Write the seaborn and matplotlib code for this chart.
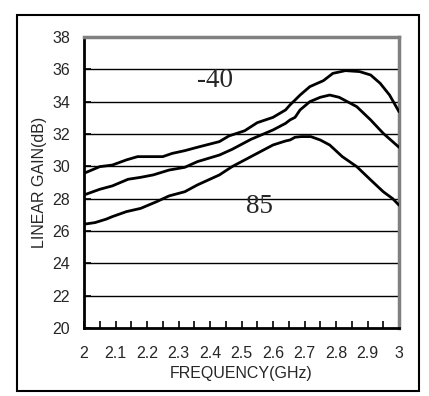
import matplotlib
matplotlib.use("Agg")
import matplotlib.pyplot as plt
import seaborn as sns
import pandas as pd
from matplotlib.patches import Rectangle

# ---- data ----
freq_m40 = [2.00, 2.05, 2.09, 2.135, 2.17, 2.25, 2.28, 2.32, 2.36, 2.43, 2.46, 2.51,
            2.55, 2.60, 2.64, 2.654, 2.67, 2.686, 2.717, 2.76, 2.79, 2.83, 2.875,
            2.91, 2.94, 2.97, 3.00]
gain_m40 = [29.57, 29.98, 30.08, 30.40, 30.60, 30.60, 30.80, 30.97, 31.18, 31.53, 31.88,
            32.20, 32.70, 33.03, 33.49, 33.80, 34.10, 34.41, 34.93, 35.30, 35.75, 35.92,
            35.86, 35.65, 35.14, 34.41, 33.38]

freq_25 = [2.00, 2.05, 2.09, 2.14, 2.18, 2.22, 2.27, 2.32, 2.36, 2.43, 2.47, 2.53,
           2.60, 2.64, 2.654, 2.67, 2.686, 2.717, 2.75, 2.78, 2.81, 2.866, 2.91,
           2.95, 3.00]
gain_25 = [28.23, 28.58, 28.79, 29.20, 29.32, 29.47, 29.77, 29.94, 30.29, 30.70, 31.05,
           31.67, 32.25, 32.66, 32.87, 33.03, 33.49, 34.00, 34.27, 34.41, 34.27, 33.69,
           32.87, 32.04, 31.18]

freq_85 = [2.00, 2.035, 2.07, 2.09, 2.135, 2.18, 2.23, 2.27, 2.32, 2.36, 2.43, 2.47,
           2.53, 2.60, 2.64, 2.654, 2.67, 2.69, 2.72, 2.75, 2.78, 2.82, 2.866, 2.91,
           2.95, 2.98, 3.00]
gain_85 = [26.42, 26.52, 26.73, 26.89, 27.20, 27.40, 27.81, 28.17, 28.43, 28.85, 29.47,
           29.98, 30.60, 31.32, 31.57, 31.63, 31.80, 31.84, 31.84, 31.63, 31.32, 30.60,
           29.98, 29.16, 28.43, 28.00, 27.60]

x_ticks = [2.0, 2.1, 2.2, 2.3, 2.4, 2.5, 2.6, 2.7, 2.8, 2.9, 3.0]
x_tick_labels = ["2", "2.1", "2.2", "2.3", "2.4", "2.5", "2.6", "2.7", "2.8", "2.9", "3"]
y_ticks = [20, 22, 24, 26, 28, 30, 32, 34, 36, 38]
annotations = [("-40", 2.417, 35.3), ("85", 2.556, 27.5)]

df = pd.concat([
    pd.DataFrame({"freq": freq_m40, "gain": gain_m40, "temp": "-40"}),
    pd.DataFrame({"freq": freq_25, "gain": gain_25, "temp": "25"}),
    pd.DataFrame({"freq": freq_85, "gain": gain_85, "temp": "85"}),
])

sns.set_style("white")
plt.rcParams["font.family"] = ["Liberation Sans", "DejaVu Sans"]

fig = plt.figure(figsize=(4.29, 3.96), dpi=100)
ax = fig.add_axes([84 / 429, 1 - 328 / 396, 315 / 429, 291 / 396])

# grid lines
for yv in y_ticks[1:-1]:
    ax.axhline(yv, color="black", lw=1.0, zorder=1)

sns.lineplot(data=df, x="freq", y="gain", units="temp", estimator=None,
             color="black", lw=2.0, ax=ax, legend=False, zorder=3, sort=False)

ax.set_xlim(2.0, 3.0)
ax.set_ylim(20, 38)
ax.set_xticks(x_ticks)
ax.set_xticklabels(x_tick_labels)
ax.set_xticks([2.05 + 0.1 * i for i in range(10)], minor=True)
ax.set_yticks(y_ticks)
ax.tick_params(axis="x", which="both", direction="in", length=5, width=1.2,
               color="black", labelsize=11.5, pad=13, bottom=True)
ax.tick_params(axis="y", which="both", direction="in", length=5, width=1.2,
               color="black", labelsize=11.5, pad=10, left=True)

for side in ["left", "bottom"]:
    ax.spines[side].set_color("black")
    ax.spines[side].set_linewidth(2.0)
for side in ["top", "right"]:
    ax.spines[side].set_color("#808080")
    ax.spines[side].set_linewidth(2.5)
    ax.spines[side].set_visible(True)

ax.set_xlabel("FREQUENCY(GHz)", fontsize=11.5)
ax.set_ylabel("LINEAR GAIN(dB)", fontsize=11.5)
ax.xaxis.set_label_coords(0.5, -0.13)
ax.yaxis.set_label_coords(-0.117, 0.5)

for txt, xv, yv in annotations:
    ax.text(xv, yv, txt, ha="center", va="center", fontsize=19.5,
            family=["Liberation Serif", "DejaVu Serif"], zorder=4)

# outer frame
fig.patches.append(Rectangle((17 / 429, 1 - 391 / 396), 402 / 429, 376 / 396,
                             transform=fig.transFigure, fill=False,
                             edgecolor="black", lw=1.5))

fig.savefig("out.png", dpi=100)
